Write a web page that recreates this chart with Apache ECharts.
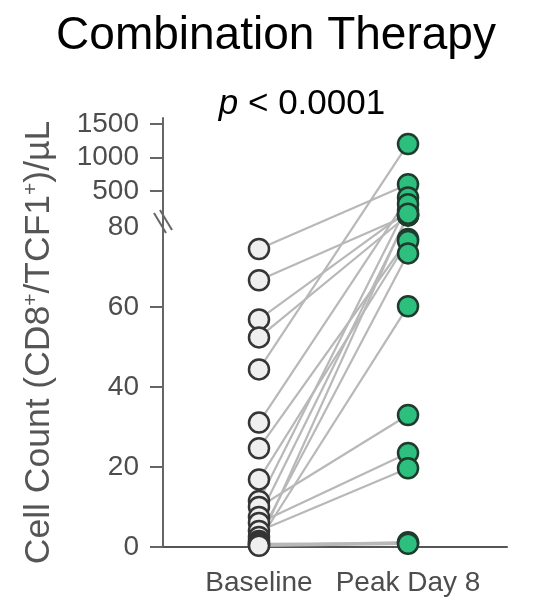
<!DOCTYPE html>
<html>
<head>
<meta charset="utf-8">
<script src="https://cdn.jsdelivr.net/npm/echarts@6/dist/echarts.min.js"></script>
<style>
  html, body { margin: 0; padding: 0; background: #fff; }
  #chart { width: 546px; height: 602px; }
</style>
</head>
<body>
<div id="chart"></div>
<script>
// paired values, one subject per index
var groups = ['Baseline', 'Peak Day 8'];
var baseline = [74.5, 66.7, 56.9, 52.4, 44.4, 31.1, 24.7, 16.9, 11.5, 10, 7.5, 6, 4, 2.5, 1.5, 1, 0.8, 0.5, 0.3];
var peak = [600, 140, 200, 140, 1200, 400, 77, 76.5, 300, 33, 130, 23.5, 19.7, 73.4, 60.2, 160, 1.0, 1.2, 0.8];
var yTicks = [0, 20, 40, 60, 500, 1000, 1500];
var yLabels = [0, 20, 40, 60, 80, 500, 1000, 1500];

// broken axis: linear up to 80, compressed above
var BREAK = 80, GAP = 2, K = 0.01675;
function fwd(v) { return v <= BREAK ? v : BREAK + GAP + (v - BREAK) * K; }
function inv(t) { return t <= BREAK ? t : BREAK + (t - BREAK - GAP) / K; }

var myChart = echarts.init(document.getElementById('chart'));
var font = 'Liberation Sans, Arial, sans-serif';

var series = [];
baseline.forEach(function (b, i) {
    series.push({
        type: 'line',
        data: [[1, fwd(b)], [2, fwd(peak[i])]],
        symbol: 'none',
        silent: true,
        z: 1,
        lineStyle: { color: '#b8b8b8', width: 2.2 }
    });
});
series.push({
    type: 'scatter',
    data: baseline.map(function (b) { return [1, fwd(b)]; }),
    symbolSize: 20,
    z: 3,
    itemStyle: { color: '#efefef', borderColor: '#353535', borderWidth: 2.5, opacity: 1 }
});
series.push({
    type: 'scatter',
    data: peak.map(function (p) { return [2, fwd(p)]; }),
    symbolSize: 20,
    z: 4,
    itemStyle: { color: '#2dbf7d', borderColor: '#1f3b2d', borderWidth: 2.5, opacity: 1 }
});

var option = {
    animation: false,
    title: [
        {
            text: 'Combination Therapy',
            left: 271, top: 8, textAlign: 'center',
            textStyle: { fontFamily: font, fontSize: 46, fontWeight: 'normal', color: '#000' }
        },
        {
            text: '{i|p} < 0.0001',
            left: 297, top: 82, textAlign: 'center',
            textStyle: {
                fontFamily: font, fontSize: 35, fontWeight: 'normal', color: '#000',
                rich: { i: { fontFamily: font, fontSize: 35, fontStyle: 'italic', color: '#000' } }
            }
        }
    ],
    grid: { left: 163, right: 39, top: 118, bottom: 55 },
    xAxis: {
        type: 'value',
        min: 0.356, max: 2.664,
        splitLine: { show: false },
        axisLine: { lineStyle: { color: '#555', width: 2 } },
        axisTick: { customValues: [1, 2], length: 8, lineStyle: { color: '#555', width: 1.5 } },
        axisLabel: {
            customValues: [1, 2],
            formatter: function (v) { return groups[Math.round(v) - 1]; },
            margin: 22, fontFamily: font, fontSize: 28, color: '#4d4d4d'
        }
    },
    yAxis: {
        type: 'value',
        min: 0, max: 107.25,
        splitLine: { show: false },
        axisLine: { show: true, lineStyle: { color: '#666', width: 2 } },
        axisTick: { show: true, customValues: yTicks.map(fwd), length: 13, lineStyle: { color: '#666', width: 2 } },
        axisLabel: {
            customValues: yLabels.map(fwd),
            formatter: function (t) { return String(Math.round(inv(t))); },
            margin: 24, fontFamily: font, fontSize: 28, color: '#4d4d4d'
        },
        name: 'Cell Count (CD8{s|+}/TCF1{s|+})/µL',
        nameLocation: 'middle',
        nameGap: 106,
        nameTextStyle: {
            fontFamily: font, fontSize: 35.5, color: '#555',
            padding: [0, 20, 0, 0],
            rich: { s: { fontFamily: font, fontSize: 21, color: '#555', verticalAlign: 'top' } }
        }
    },
    graphic: [
        { type: 'line', shape: { x1: 154, y1: 213, x2: 166, y2: 233 }, style: { stroke: '#666', lineWidth: 2 }, z: 10 },
        { type: 'line', shape: { x1: 160, y1: 210, x2: 172, y2: 230 }, style: { stroke: '#666', lineWidth: 2 }, z: 10 }
    ],
    series: series
};
myChart.setOption(option);
</script>
</body>
</html>
